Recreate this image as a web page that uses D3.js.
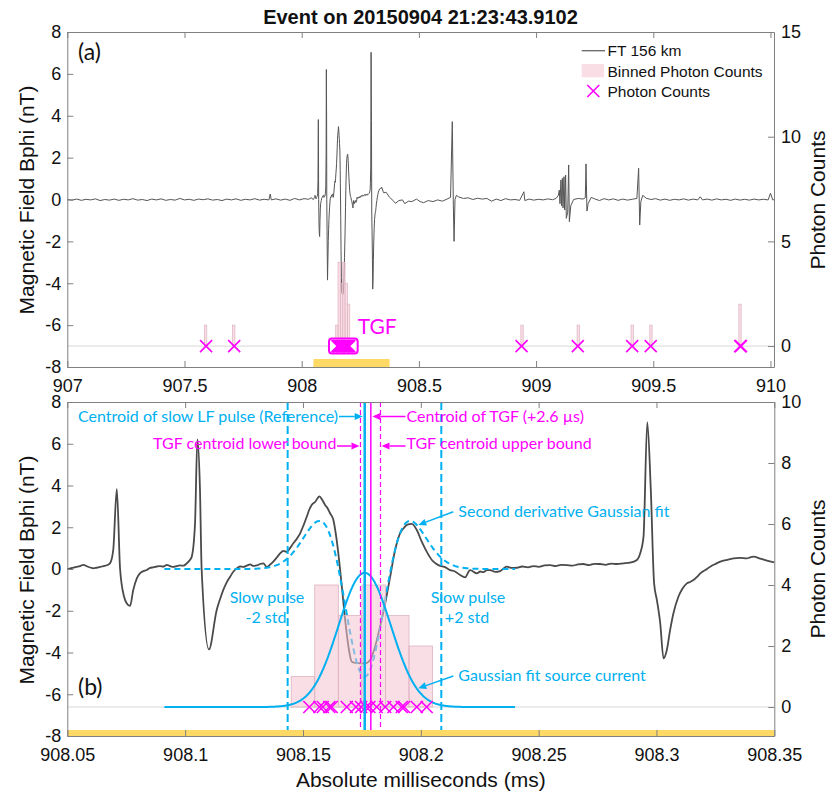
<!DOCTYPE html>
<html>
<head>
<meta charset="utf-8">
<script src="https://cdn.jsdelivr.net/npm/d3@7"></script>
<style>
  body { margin: 0; background: #fff; }
</style>
</head>
<body>
<svg id="chart" width="829" height="792"></svg>
<script>
// ---------------- data ----------------
const titleText = "Event on 20150904 21:23:43.9102";
const overviewTicks = [907, 907.5, 908, 908.5, 909, 909.5, 910];
const zoomTicks = [908.05, 908.1, 908.15, 908.2, 908.25, 908.3, 908.35];
const fieldTicks = [-8, -6, -4, -2, 0, 2, 4, 6, 8];
const countTicksA = [0, 5, 10, 15];
const countTicksB = [0, 2, 4, 6, 8, 10];

// Bphi magnetic field, FT 156 km: [time (ms), field (nT)]
const fieldTrace = [
  [907.000, 0.00], [907.020, -0.03], [907.040, 0.02], [907.060, -0.04], [907.080, 0.01],
  [907.100, -0.02], [907.120, 0.03], [907.140, -0.05], [907.160, 0.00], [907.180, -0.03],
  [907.200, 0.02], [907.220, -0.04], [907.240, 0.01], [907.260, -0.02], [907.280, 0.04],
  [907.300, -0.03], [907.320, 0.00], [907.340, -0.05], [907.360, 0.02], [907.380, -0.02],
  [907.400, 0.03], [907.420, -0.04], [907.440, 0.00], [907.460, -0.03], [907.480, 0.05],
  [907.500, -0.02], [907.520, 0.01], [907.540, -0.04], [907.560, 0.02], [907.580, -0.01],
  [907.600, 0.03], [907.620, -0.03], [907.640, 0.00], [907.660, -0.05], [907.680, 0.02],
  [907.700, -0.02], [907.720, 0.03], [907.740, -0.04], [907.760, 0.01], [907.780, -0.02],
  [907.800, 0.04], [907.820, -0.03], [907.840, 0.01], [907.860, -0.02], [907.866, 0.26],
  [907.870, -0.02], [907.890, 0.03], [907.910, -0.03], [907.930, 0.02], [907.950, -0.04],
  [907.970, 0.05], [907.990, -0.02], [908.010, 0.04], [908.030, 0.01], [908.040, 0.08],
  [908.0500, 0.00], [908.0520, 0.05], [908.0540, 0.10], [908.0554, 0.14], [908.0568, 0.20],
  [908.0585, 0.12], [908.0600, 0.06], [908.0610, 0.03], [908.0625, 0.06], [908.0640, 0.10],
  [908.0653, 0.14], [908.0668, 0.18], [908.0681, 0.27], [908.0695, 0.92], [908.0710, 3.82],
  [908.0724, 0.00], [908.0741, -1.33], [908.0752, -1.64], [908.0766, -1.77], [908.0780, -1.00],
  [908.0795, -0.45], [908.0809, -0.20], [908.0823, -0.10], [908.0837, -0.05], [908.0851, 0.05],
  [908.0865, 0.08], [908.0880, 0.12], [908.0893, 0.14], [908.0908, 0.12], [908.0922, 0.20],
  [908.0936, 0.14], [908.0950, 0.10], [908.0964, 0.14], [908.0978, 0.17], [908.0993, 0.16],
  [908.1007, 0.27], [908.1018, 0.40], [908.1028, 0.59], [908.1042, 2.19], [908.1052, 6.21],
  [908.1063, 3.80], [908.1070, 0.00], [908.1101, -3.85], [908.1134, -1.96], [908.1148, -1.45],
  [908.1162, -1.00], [908.1176, -0.65], [908.1191, -0.37], [908.1205, -0.12], [908.1219, 0.03],
  [908.1233, 0.12], [908.1247, 0.10], [908.1262, 0.16], [908.1276, 0.22], [908.1290, 0.15],
  [908.1304, 0.17], [908.1318, 0.24], [908.1332, 0.27], [908.1346, 0.10], [908.1360, 0.20],
  [908.1374, 0.35], [908.1389, 0.55], [908.1403, 0.75], [908.1417, 0.87], [908.1431, 0.82],
  [908.1445, 1.00], [908.1459, 1.23], [908.1474, 1.45], [908.1488, 1.71], [908.1502, 2.08],
  [908.1516, 2.50], [908.1527, 2.85], [908.1537, 3.07], [908.1552, 3.22], [908.1570, 3.48],
  [908.1582, 3.30], [908.1594, 3.07], [908.1605, 2.90], [908.1615, 2.67], [908.1629, 2.35],
  [908.1643, 1.39], [908.1650, 0.75], [908.1665, -0.85], [908.1679, -2.44], [908.1693, -3.72],
  [908.1707, -4.44], [908.1725, -4.50], [908.1742, -4.52], [908.1764, -4.52], [908.1785, -4.36],
  [908.1806, -3.72], [908.1827, -2.76], [908.1849, -1.64], [908.1870, -0.37], [908.1891, 0.91],
  [908.1912, 1.71], [908.1927, 1.95], [908.1941, 2.11], [908.1962, 2.16], [908.1983, 1.87],
  [908.2004, 1.31], [908.2025, 0.83], [908.2047, 0.43], [908.2065, 0.25], [908.2082, 0.15],
  [908.2100, 0.10], [908.2124, -0.05], [908.2145, -0.12], [908.2167, -0.29], [908.2188, -0.40],
  [908.2209, -0.05], [908.2238, -0.21], [908.2252, -0.12], [908.2266, -0.15], [908.2280, -0.05],
  [908.2294, -0.05], [908.2316, -0.14], [908.2337, -0.10], [908.2351, 0.02], [908.2365, 0.11],
  [908.2387, 0.05], [908.2408, 0.06], [908.2430, 0.12], [908.2455, 0.08], [908.2478, 0.14],
  [908.2500, 0.10], [908.2525, 0.17], [908.2549, 0.19], [908.2572, 0.14], [908.2596, 0.20],
  [908.2620, 0.19], [908.2643, 0.16], [908.2667, 0.22], [908.2690, 0.24], [908.2714, 0.19],
  [908.2737, 0.25], [908.2761, 0.24], [908.2784, 0.20], [908.2808, 0.26], [908.2832, 0.24],
  [908.2860, 0.27], [908.2888, 0.30], [908.2917, 0.43], [908.2931, 0.75], [908.2945, 1.55],
  [908.2961, 7.03], [908.2976, 3.78], [908.2990, -0.69], [908.3002, -1.50], [908.3016, -2.60],
  [908.3030, -4.28], [908.3044, -3.88], [908.3058, -2.92], [908.3072, -2.12], [908.3093, -1.33],
  [908.3110, -0.95], [908.3129, -0.69], [908.3143, -0.62], [908.3157, -0.53], [908.3172, -0.38],
  [908.3186, -0.21], [908.3207, -0.05], [908.3228, 0.11], [908.3250, 0.24], [908.3271, 0.35],
  [908.3299, 0.44], [908.3327, 0.51], [908.3355, 0.53], [908.3384, 0.51], [908.3398, 0.56],
  [908.3412, 0.59], [908.3440, 0.50], [908.3469, 0.40], [908.3500, 0.32],
  [908.360, 0.35], [908.375, 0.10], [908.390, -0.05], [908.400, -0.18], [908.415, -0.05],
  [908.430, -0.02], [908.440, -0.20], [908.455, -0.08], [908.470, -0.10], [908.490, 0.02],
  [908.505, -0.10], [908.520, -0.15], [908.540, -0.05], [908.560, -0.10], [908.580, -0.02],
  [908.600, -0.08], [908.620, 0.02], [908.635, 0.10], [908.6425, 3.72], [908.647, -0.30],
  [908.650, -2.00], [908.654, 0.00], [908.660, 0.20], [908.670, 0.12], [908.690, 0.05],
  [908.710, 0.08], [908.730, 0.00], [908.750, 0.06], [908.770, 0.02], [908.790, 0.05],
  [908.810, -0.08], [908.830, 0.02], [908.850, -0.05], [908.870, 0.04], [908.890, -0.02],
  [908.910, 0.00], [908.930, -0.04], [908.948, 0.37], [908.952, -0.05], [908.970, 0.02],
  [908.990, -0.03], [909.010, 0.01], [909.030, -0.02], [909.050, 0.03], [909.070, -0.01],
  [909.085, 0.05], [909.095, 0.20], [909.099, 0.45], [909.102, -0.20], [909.106, 0.93],
  [909.109, -0.30], [909.112, 1.01], [909.115, -0.40], [909.119, 1.09], [909.122, -0.50],
  [909.126, 1.17], [909.129, -0.90], [909.135, -0.60], [909.139, 1.65], [909.142, -1.06],
  [909.148, -0.30], [909.160, 0.00], [909.180, 0.05], [909.200, 0.02], [909.210, 0.08],
  [909.213, 1.70], [909.217, -0.55], [909.222, -0.20], [909.235, 0.10], [909.250, 0.03],
  [909.270, -0.05], [909.290, 0.04], [909.310, -0.02], [909.330, 0.03], [909.350, -0.04],
  [909.370, 0.02], [909.390, -0.03], [909.410, 0.01], [909.430, 0.05], [909.4375, 1.49],
  [909.442, -1.22], [909.447, -0.10], [909.455, 0.20], [909.470, 0.06], [909.490, 0.00],
  [909.510, 0.04], [909.530, -0.03], [909.550, 0.02], [909.570, -0.04], [909.590, 0.01],
  [909.610, -0.02], [909.630, 0.03], [909.650, -0.03], [909.670, 0.02], [909.690, -0.02],
  [909.700, 0.13], [909.710, -0.02], [909.730, 0.02], [909.750, -0.03], [909.770, 0.03],
  [909.790, -0.02], [909.810, 0.01], [909.830, -0.04], [909.850, 0.02], [909.870, -0.03],
  [909.890, 0.01], [909.910, -0.03], [909.930, 0.02], [909.950, -0.02], [909.970, 0.01],
  [909.990, -0.02], [910.000, 0.30], [910.010, -0.02], [910.020, 0.00]
];

// photon arrival times (ms)
const photonTimes = [
  907.592, 907.712,
  908.1527, 908.1570, 908.1584, 908.1612, 908.1622, 908.1686, 908.1725, 908.1747,
  908.1768, 908.1782, 908.1813, 908.1849, 908.1884, 908.1919, 908.1929, 908.1983, 908.2025,
  908.938, 909.178, 909.410, 909.489, 909.871, 909.874
];
const binOrigin = 907.005;     // first histogram edge (ms)
const binWidth = 0.01;         // histogram bin width (ms)
const binCount = 301;

const zoomWindow = [908.05, 908.375];   // span shown in the lower panel

// fitted pulse quantities (ms)
const lfCentroid = 908.1762;                // centroid of slow LF pulse
const tgfOffset = 0.0026;                    // TGF centroid offset (+2.6 µs)
const tgfCentroid = lfCentroid + tgfOffset;
const tgfBounds = [908.1744, 908.1829];
const slowPulseBounds = [908.1435, 908.2087]; // -2 std, +2 std
const fitSigma = 0.0111;
const derivAmplitude = 5.16;                 // nT
const currentPeak = 4.4;                     // counts
const fitSpan = [908.0912, 908.2400];

// ---------------- styling ----------------
const cyan = "#00B0F0", magenta = "#FF00FF";
const pinkFill = "#F4C2D0", gold = "#FFD966";
const axisColor = "#808080", ink = "#111111";
const sansFont = '"Liberation Sans", Arial, Helvetica, sans-serif';
const noteFont = 'Lato, "Open Sans", sans-serif';

const svg = d3.select("#chart");
const boxA = { left: 67.3, right: 774, top: 32, bottom: 367 };
const boxB = { left: 67.3, right: 774.3, top: 402, bottom: 736 };

const xA = d3.scaleLinear().domain([907, 910.015]).range([boxA.left, boxA.right]);
const yA = d3.scaleLinear().domain([-8, 8]).range([boxA.bottom, boxA.top]);
const cA = d3.scaleLinear().domain([-1, 15]).range([boxA.bottom, boxA.top]);

const xB = d3.scaleLinear().domain([908.05, 908.35]).range([boxB.left, boxB.right]);
const yB = d3.scaleLinear().domain([-8, 8]).range([boxB.bottom, boxB.top]);
const cB = d3.scaleLinear().domain([-0.95, 10]).range([boxB.bottom, boxB.top]);

const defs = svg.append("defs");
[["clipA", boxA], ["clipB", boxB]].forEach(([id, b]) => {
  defs.append("clipPath").attr("id", id).append("rect")
    .attr("x", b.left).attr("y", b.top)
    .attr("width", b.right - b.left).attr("height", b.bottom - b.top);
});

// histogram of photon counts
const edges = d3.range(binCount + 1).map(k => +(binOrigin + k * binWidth).toFixed(4));
const bins = d3.bin()
  .domain([edges[0], edges[edges.length - 1]])
  .thresholds(edges.slice(1, -1))(photonTimes)
  .filter(b => b.length > 0);

// model curves of the fit
const fitTimes = d3.range(fitSpan[0], fitSpan[1] + 1e-9, 0.0004);
const derivFit = fitTimes.map(t => {
  const u = (t - lfCentroid) / fitSigma;
  return [t, -derivAmplitude * (1 - u * u) * Math.exp(-u * u / 2)];
});
const currentFit = fitTimes.map(t => {
  const u = (t - lfCentroid) / fitSigma;
  return [t, currentPeak * Math.exp(-u * u / 2)];
});

function crossPath(x, y, h) {
  return `M${x - h},${y - h}L${x + h},${y + h}M${x - h},${y + h}L${x + h},${y - h}`;
}

function drawAxes(g, box, x, yL, yR, xTicks, yRTicks, xPad) {
  const style = sel => {
    sel.selectAll("path,line").attr("stroke", axisColor).attr("stroke-width", 1);
    sel.selectAll("text").attr("fill", ink).attr("font-size", 18).attr("font-family", sansFont);
  };
  const fmt = d => String(d);
  g.append("g").attr("transform", `translate(0,${box.bottom})`)
    .call(d3.axisBottom(x).tickValues(xTicks).tickFormat(fmt)
      .tickSizeInner(-6).tickSizeOuter(0).tickPadding(xPad)).call(style);
  g.append("g").attr("transform", `translate(0,${box.top})`)
    .call(d3.axisTop(x).tickValues(xTicks).tickFormat("")
      .tickSizeInner(-6).tickSizeOuter(0)).call(style);
  g.append("g").attr("transform", `translate(${box.left},0)`)
    .call(d3.axisLeft(yL).tickValues(fieldTicks).tickFormat(fmt)
      .tickSizeInner(-6).tickSizeOuter(0).tickPadding(6)).call(style);
  g.append("g").attr("transform", `translate(${box.right},0)`)
    .call(d3.axisRight(yR).tickValues(yRTicks).tickFormat(fmt)
      .tickSizeInner(-6).tickSizeOuter(0).tickPadding(7)).call(style);
}

function arrow(g, x1, y1, x2, y2, color) {
  const ang = Math.atan2(y2 - y1, x2 - x1);
  const len = 8, half = 3.5;
  const bx = x2 - len * Math.cos(ang), by = y2 - len * Math.sin(ang);
  g.append("line").attr("x1", x1).attr("y1", y1).attr("x2", bx).attr("y2", by)
    .attr("stroke", color).attr("stroke-width", 1.5);
  const px = -Math.sin(ang) * half, py = Math.cos(ang) * half;
  g.append("path")
    .attr("d", `M${x2},${y2}L${bx + px},${by + py}L${bx - px},${by - py}Z`)
    .attr("fill", color);
}

function label(g, text, x, y, opts) {
  return g.append("text").attr("x", x).attr("y", y).text(text)
    .attr("font-family", opts.font || noteFont)
    .attr("font-size", opts.size || 16)
    .attr("fill", opts.color || ink)
    .attr("text-anchor", opts.anchor || "start")
    .attr("font-weight", opts.weight || "normal");
}

// ---------------- title ----------------
label(svg, titleText, 420.5, 24, { font: sansFont, size: 20, weight: "bold", anchor: "middle" });

// ================= panel (a) =================
const gA = svg.append("g");
const plotA = gA.append("g").attr("clip-path", "url(#clipA)");

plotA.append("path").datum(fieldTrace)
  .attr("d", d3.line().x(d => xA(d[0])).y(d => yA(d[1])))
  .attr("fill", "none").attr("stroke", "#555").attr("stroke-width", 1);

plotA.append("line")
  .attr("x1", boxA.left).attr("x2", boxA.right)
  .attr("y1", cA(0)).attr("y2", cA(0))
  .attr("stroke", "#d9d9d9").attr("stroke-width", 1);

plotA.selectAll("rect.bin").data(bins).join("rect").attr("class", "bin")
  .attr("x", d => xA(d.x0)).attr("width", d => xA(d.x1) - xA(d.x0))
  .attr("y", d => cA(d.length)).attr("height", d => cA(0) - cA(d.length))
  .attr("fill", pinkFill).attr("fill-opacity", 0.55)
  .attr("stroke", "#e2b9c6").attr("stroke-width", 0.8);

// TGF marker box around the clustered photons
const tgfPhotons = photonTimes.filter(t => t > zoomWindow[0] && t < zoomWindow[1]);
const tgfX = d3.extent(tgfPhotons).map(xA);
gA.append("rect")
  .attr("x", tgfX[0] - 8.5).attr("y", cA(0) - 7.5)
  .attr("width", tgfX[1] - tgfX[0] + 17).attr("height", 15)
  .attr("rx", 3).attr("fill", "#fff")
  .attr("stroke", magenta).attr("stroke-width", 2);

gA.append("g").attr("clip-path", "url(#clipA)")
  .selectAll("path.photon").data(photonTimes).join("path").attr("class", "photon")
  .attr("d", t => crossPath(xA(t), cA(0), 6))
  .attr("stroke", magenta).attr("stroke-width", 1.6).attr("fill", "none");

label(gA, "TGF", tgfX[1] + 8.5, 334, { size: 21, color: magenta });
label(gA, "(a)", 78, 60, { size: 23, color: ink });

gA.append("rect")
  .attr("x", xA(zoomWindow[0])).attr("width", xA(zoomWindow[1]) - xA(zoomWindow[0]))
  .attr("y", boxA.bottom - 8).attr("height", 8).attr("fill", gold);

drawAxes(gA, boxA, xA, yA, cA, overviewTicks, countTicksA, 12);

// legend
const lg = gA.append("g");
lg.append("line").attr("x1", 581.7).attr("x2", 605).attr("y1", 50.7).attr("y2", 50.7)
  .attr("stroke", "#666").attr("stroke-width", 1.3);
label(lg, "FT 156 km", 607.5, 56, { font: sansFont, size: 15.5 });
lg.append("rect").attr("x", 581.7).attr("y", 64).attr("width", 22.3).attr("height", 13.3)
  .attr("fill", pinkFill).attr("fill-opacity", 0.55);
label(lg, "Binned Photon Counts", 607.5, 76.5, { font: sansFont, size: 15.5 });
lg.append("path").attr("d", crossPath(593.3, 91, 6))
  .attr("stroke", magenta).attr("stroke-width", 1.6).attr("fill", "none");
label(lg, "Photon Counts", 607.5, 96.5, { font: sansFont, size: 15.5 });

// ================= panel (b) =================
const gB = svg.append("g");
const plotB = gB.append("g").attr("clip-path", "url(#clipB)");

plotB.append("path").datum(fieldTrace)
  .attr("d", d3.line().curve(d3.curveMonotoneX).x(d => xB(d[0])).y(d => yB(d[1])))
  .attr("fill", "none").attr("stroke", "#4a4a4a").attr("stroke-width", 1.8)
  .attr("stroke-linejoin", "round");

plotB.append("path").datum(derivFit)
  .attr("d", d3.line().x(d => xB(d[0])).y(d => yB(d[1])))
  .attr("fill", "none").attr("stroke", cyan).attr("stroke-width", 2)
  .attr("stroke-dasharray", "6,4");

plotB.append("line")
  .attr("x1", boxB.left).attr("x2", boxB.right)
  .attr("y1", cB(0)).attr("y2", cB(0))
  .attr("stroke", "#d9d9d9").attr("stroke-width", 1);

plotB.selectAll("rect.bin").data(bins).join("rect").attr("class", "bin")
  .attr("x", d => xB(d.x0)).attr("width", d => xB(d.x1) - xB(d.x0))
  .attr("y", d => cB(d.length)).attr("height", d => cB(0) - cB(d.length))
  .attr("fill", pinkFill).attr("fill-opacity", 0.55)
  .attr("stroke", "#dcb3c0").attr("stroke-width", 0.8);

plotB.append("path").datum(currentFit)
  .attr("d", d3.line().x(d => xB(d[0])).y(d => cB(d[1])))
  .attr("fill", "none").attr("stroke", cyan).attr("stroke-width", 2);

plotB.selectAll("path.photon").data(photonTimes).join("path").attr("class", "photon")
  .attr("d", t => crossPath(xB(t), cB(0), 6))
  .attr("stroke", magenta).attr("stroke-width", 1.6).attr("fill", "none");

// reference and bound lines
const vline = (t, color, width, dash) => plotB.append("line")
  .attr("x1", xB(t)).attr("x2", xB(t)).attr("y1", boxB.top).attr("y2", boxB.bottom)
  .attr("stroke", color).attr("stroke-width", width)
  .attr("stroke-dasharray", dash || null);
slowPulseBounds.forEach(t => vline(t, cyan, 2, "8,4"));
tgfBounds.forEach(t => vline(t, magenta, 1.2, "5,3"));
vline(lfCentroid, cyan, 2.5);
vline(tgfCentroid, magenta, 1.5);

// annotations
const nb = gB.append("g");
label(nb, "Centroid of slow LF pulse (Reference)", 338, 421.5, { color: cyan, anchor: "end" });
arrow(nb, 339, 416.5, xB(lfCentroid) - 2, 416.5, cyan);
label(nb, "TGF centroid lower bound", 336.5, 449.3, { color: magenta, anchor: "end" });
arrow(nb, 337, 446, xB(tgfBounds[0]) - 1, 446, magenta);
label(nb, "Centroid of TGF (+2.6 µs)", 406.5, 421.5, { color: magenta });
arrow(nb, 405.5, 416.5, xB(tgfCentroid) + 1.5, 416.5, magenta);
label(nb, "TGF centroid upper bound", 406.5, 449.3, { color: magenta });
arrow(nb, 405.5, 446, xB(tgfBounds[1]) + 1, 446, magenta);

label(nb, "Second derivative Gaussian fit", 458.3, 516.7, { color: cyan });
arrow(nb, 453.3, 511.7, 418.3, 525, cyan);
label(nb, "Gaussian fit source current", 458.3, 680.7, { color: cyan });
arrow(nb, 453.3, 676, 418.3, 688.3, cyan);

label(nb, "Slow pulse", 267, 602.7, { color: cyan, anchor: "middle" });
label(nb, "-2 std", 266, 623.3, { color: cyan, anchor: "middle" });
label(nb, "Slow pulse", 468, 602.7, { color: cyan, anchor: "middle" });
label(nb, "+2 std", 467, 623.3, { color: cyan, anchor: "middle" });

label(gB, "(b)", 78, 695, { size: 23, color: ink });

gB.append("rect")
  .attr("x", xB(zoomWindow[0])).attr("width", boxB.right - xB(zoomWindow[0]))
  .attr("y", boxB.bottom - 6).attr("height", 6).attr("fill", gold);

drawAxes(gB, boxB, xB, yB, cB, zoomTicks, countTicksB, 12);

// ---------------- axis titles ----------------
const axisTitle = (text, x, y, rotate) => svg.append("text")
  .attr("transform", `translate(${x},${y})` + (rotate ? " rotate(-90)" : ""))
  .attr("text-anchor", "middle").attr("font-family", sansFont)
  .attr("font-size", 21).attr("fill", ink).text(text);
axisTitle("Magnetic Field Bphi (nT)", 33.5, 200, true);
axisTitle("Photon Counts", 825, 200, true);
axisTitle("Magnetic Field Bphi (nT)", 33.5, 570, true);
axisTitle("Photon Counts", 825, 569, true);
axisTitle("Absolute milliseconds (ms)", 420.8, 787, false);
</script>
</body>
</html>
